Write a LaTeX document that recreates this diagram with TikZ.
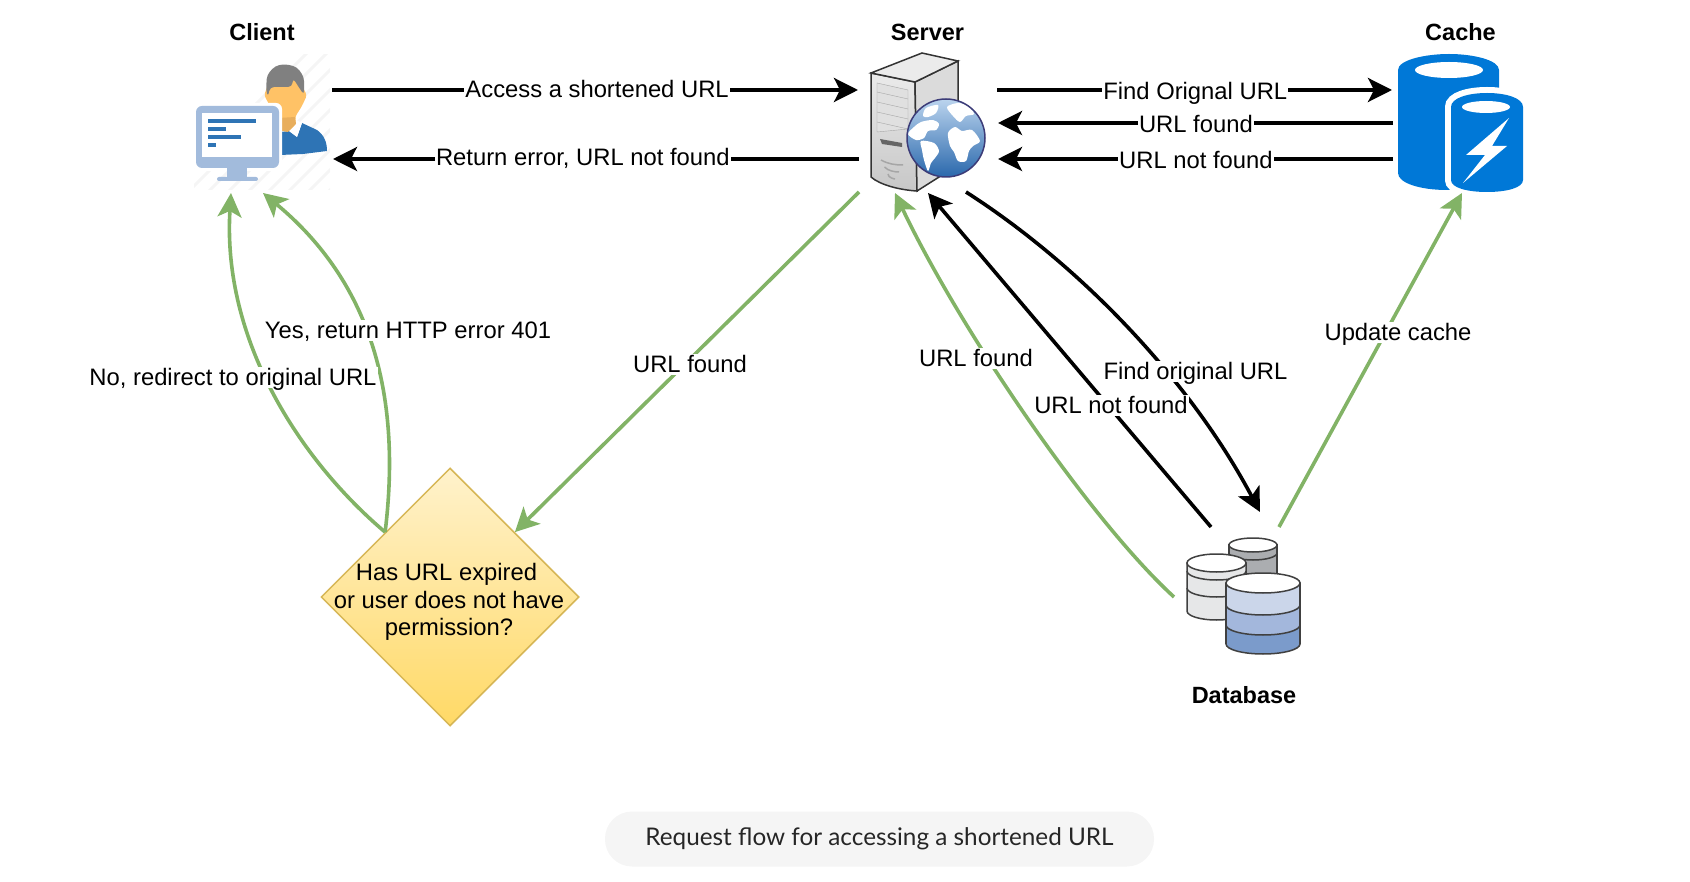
\documentclass[tikz,border=0pt]{standalone}
\usepackage{fontspec}
\setmainfont{Liberation Sans}
\newfontfamily\captionfont{Lato}
\usetikzlibrary{arrows.meta,shapes.geometric}
\definecolor{flowgreen}{HTML}{82B366}
\definecolor{cacheblue}{HTML}{0078D7}
\definecolor{personblue}{HTML}{2E74B5}
\definecolor{monitorblue}{HTML}{A2BBDC}
\definecolor{pillgray}{HTML}{F5F5F5}
\definecolor{facetone}{HTML}{FFC266}
\definecolor{necktone}{HTML}{E8AE5C}
\definecolor{checktop}{HTML}{FFF2CC}
\definecolor{checkbottom}{HTML}{FFD966}
\definecolor{checkedge}{HTML}{D6B656}
\definecolor{globetop}{HTML}{BBD4EE}
\definecolor{globebottom}{HTML}{2A68AC}
\definecolor{globeedge}{HTML}{3C3C78}
\definecolor{drumlight}{HTML}{CBD6EA}
\definecolor{drummid}{HTML}{A3B7DC}
\definecolor{drumdark}{HTML}{7B9BCB}
\definecolor{drumgray}{HTML}{ABADB0}
\definecolor{drumpale}{HTML}{E6E7E8}
\tikzset{
	blackflow/.style={line width=3.6pt,-{Stealth[length=24pt,width=24pt,inset=6pt]}},
	greenflow/.style={blackflow,draw=flowgreen},
	plainlabel/.style={inner sep=1pt,font=\fontsize{23.8}{27.6}\selectfont},
	edgelabel/.style={plainlabel,fill=white,text height=17pt,text depth=2pt},
	titlelabel/.style={inner sep=0pt,font=\fontsize{23.5}{28}\selectfont\bfseries},
	dbedge/.style={draw=black!75,line width=1.5pt}
}
\begin{document}
\begin{tikzpicture}[x=1pt,y=-1pt]
	\useasboundingbox (0,0) rectangle (1690,882);

	\begin{scope}
		\clip (194,55) rectangle (330,190);
		\foreach \hatch in {0,20,...,300}
			\draw[black!4,line width=3pt](160+\hatch,200)--(160+\hatch+160,40);
	\end{scope}
	\draw[fill=personblue,draw=none](280,132)--(280,155)--(303,154)--(327,151)..controls(327,142)and(324,135)..(317,130)--(302,123)--(297,137)--(289,131)--cycle;
	\draw[fill=white,draw=none](289,131)--(297,137)--(302,123)--(296,120)--cycle;
	\draw[fill=facetone,draw=none,rounded corners=3pt](264,95)--(270,106)--(278,117)--(278,130)--(288,132)--(296,124)--(295,117)--(302,106)--(307,95)--(303,88)--(300,72)--(270,72)--(267,88)--cycle;
	\draw[fill=necktone,draw=none](279,118)--(295,117)--(296,124)--(288,132)--(279,130)--cycle;
	\draw[fill=black!50,draw=none,rounded corners=4pt](268,97)--(266,90)--(267,75)--(275,66)--(285,64)--(297,67)--(304,77)--(304,95)--(298,86)--(293,78)--(292,87)--(282,87)--(270,87)--cycle;
	\draw[fill=white,draw=none,rounded corners=6pt](193,103) rectangle (282,171);
	\draw[fill=monitorblue,draw=none,rounded corners=6pt](196,106) rectangle (279,168);
	\draw[fill=white,draw=none](202,113) rectangle (272,157);
	\draw[fill=monitorblue,draw=none](227,167) rectangle (247,178);
	\draw[fill=monitorblue,draw=none,rounded corners=2pt](217,177) rectangle (258,181);
	\foreach \barend/\bary in {256/121,226/129,241/137,216/145}
		\draw[personblue,line width=3.5pt](208,\bary)--(\barend,\bary);

	\draw[black!80,line width=1.5pt,top color=black!8,bottom color=black!22](871,73)--(915,82)--(917,191)..controls(900,190)and(880,185)..(871,177)--cycle;
	\draw[black!80,line width=1.5pt,fill=black!14](915,82)--(958,61)--(958,165)--(917,191)--cycle;
	\draw[black!80,line width=1.5pt,fill=black!8](871,73)--(922,53)--(958,61)--(915,82)--cycle;
	\draw[black!35,fill=black!12](877,83)--(908,90)--(908,129)--(877,132)--cycle;
	\foreach \ventshift in {0,10,20,30}
		\draw[black!35](877,92+\ventshift)--(908,99+\ventshift);
	\draw[draw=none,fill=black!60](880,139)--(902,143)--(902,147)--(882,144)--cycle;
	\foreach \ventshift/\ventend in {0/903,7/899,14/895}
		\draw[black!35,line width=1.5pt](881+\ventshift/2,160+\ventshift)..controls(888,164+\ventshift)and(895,165+\ventshift)..(\ventend,165+\ventshift);
	\begin{scope}
		\clip (946,138) circle[radius=39];
		\shade[top color=globetop,bottom color=globebottom](907,99) rectangle (985,177);
		\fill[white] plot[smooth cycle] coordinates {(921,141)(934,143)(939,151)(935,158)(931,163)(928,171)(924,160)(922,150)};
		\fill[white] plot[smooth cycle] coordinates {(948,133)(955,127)(962,131)(972,130)(980,141)(973,146)(969,151)(966,161)(958,161)(954,152)(950,146)};
		\fill[white] plot[smooth cycle] coordinates {(908,134)(914,127)(921,122)(933,120)(939,124)(936,130)(928,131)(924,138)(916,140)};
		\fill[white] plot[smooth cycle] coordinates {(947,107)(958,103)(968,106)(974,114)(966,116)(960,122)(953,116)};
		\fill[white] plot[smooth cycle] coordinates {(926,108)(938,105)(936,113)(928,117)(923,116)};
	\end{scope}
	\draw[globeedge,line width=1.5pt](946,138) circle[radius=39];

	\draw[fill=cacheblue,draw=none](1398,70)..controls(1398,60)and(1425,54)..(1449,54)..controls(1473,54)and(1499,60)..(1499,70)--(1499,190)--(1447,190)..controls(1420,190)and(1398,183)..(1398,173)--cycle;
	\draw[fill=white,draw=none](1449,70) ellipse[x radius=34,y radius=8];
	\draw[fill=cacheblue,draw=none,preaction={draw=white,line width=12pt}](1451,107)..controls(1451,98)and(1468,93)..(1487,93)..controls(1506,93)and(1523,98)..(1523,107)--(1523,180)..controls(1523,188)and(1506,192)..(1487,192)..controls(1468,192)and(1451,188)..(1451,180)--cycle;
	\draw[fill=white,draw=none](1486,107) ellipse[x radius=24,y radius=6];
	\draw[fill=white,draw=none](1509,118)--(1466,155)--(1485,155)--(1463,183)--(1507,146)--(1492,146)--cycle;

	\draw[dbedge,fill=drumgray](1229,545)--(1229,590)--(1277,590)--(1277,545)--cycle;
	\draw[dbedge](1229,553) arc[start angle=180,end angle=0,x radius=24,y radius=7];
	\draw[dbedge,fill=white](1253,545) ellipse[x radius=24,y radius=7];
	\draw[dbedge,fill=drumpale](1187,563)--(1187,611) arc[start angle=180,end angle=0,x radius=29.5,y radius=9]--(1246,563)--cycle;
	\draw[dbedge](1187,571) arc[start angle=180,end angle=0,x radius=29.5,y radius=9];
	\draw[dbedge](1187,588) arc[start angle=180,end angle=0,x radius=29.5,y radius=9];
	\draw[dbedge,fill=white](1216.5,563) ellipse[x radius=29.5,y radius=9];
	\draw[dbedge,fill=drumdark](1226,583)--(1226,644) arc[start angle=180,end angle=0,x radius=37,y radius=10]--(1300,583)--cycle;
	\draw[draw=none,fill=drummid](1226,625) arc[start angle=180,end angle=0,x radius=37,y radius=10]--(1300,605) arc[start angle=0,end angle=180,x radius=37,y radius=10]--cycle;
	\draw[draw=none,fill=drumlight](1226,605) arc[start angle=180,end angle=0,x radius=37,y radius=10]--(1300,583)--(1226,583)--cycle;
	\draw[dbedge](1226,605) arc[start angle=180,end angle=0,x radius=37,y radius=10];
	\draw[dbedge](1226,625) arc[start angle=180,end angle=0,x radius=37,y radius=10];
	\draw[dbedge](1226,583)--(1226,644);
	\draw[dbedge](1300,583)--(1300,644);
	\draw[dbedge,fill=white](1263,583) ellipse[x radius=37,y radius=10];

	\node[titlelabel] (clienttitle) at (262,32) {Client};
	\node[titlelabel] (servertitle) at (927.5,32) {Server};
	\node[titlelabel] (cachetitle) at (1460.5,32) {Cache};
	\node[titlelabel] (dbtitle) at (1244,695) {Database};

	\node[diamond,draw=checkedge,line width=1.5pt,top color=checktop,bottom color=checkbottom,minimum width=258pt,minimum height=258pt,inner sep=0pt,shape aspect=1] (check) at (450,597) {};
	\node[plainlabel,align=center] (checktext) at (449,602) {Has URL expired\hspace*{5pt}\\or user does not have\\permission?};

	\coordinate (clientout) at (332,90);
	\coordinate (clientin) at (333,159);
	\coordinate (clienttipa) at (231,193);
	\coordinate (clienttipb) at (263,193);
	\coordinate (serverin) at (858,90);
	\coordinate (serverback) at (859,159);
	\coordinate (serverright) at (997,90);
	\coordinate (serverfound) at (998,123);
	\coordinate (servermiss) at (998,159);
	\coordinate (servergreenout) at (859,192);
	\coordinate (servergreenin) at (895,193);
	\coordinate (serverblackin) at (928,193);
	\coordinate (serverblackout) at (966,192);
	\coordinate (cachein) at (1392,90);
	\coordinate (cachefound) at (1393,123);
	\coordinate (cachemiss) at (1393,159);
	\coordinate (cachetip) at (1462,193);
	\coordinate (dbin) at (1260,512);
	\coordinate (dbblackout) at (1211,527);
	\coordinate (dbgreenout) at (1174,597);
	\coordinate (dbcacheout) at (1279,527);

	\draw[blackflow](clientout)--node[edgelabel,pos=.504](accesslabel){Access a shortened URL}(serverin);
	\draw[blackflow](serverback)--node[edgelabel,pos=.525,yshift=1pt](errorlabel){Return error, URL not found}(clientin);
	\draw[blackflow](serverright)--node[edgelabel,pos=.502,yshift=-2pt](findlabel){Find Orignal URL}(cachein);
	\draw[blackflow](cachefound)--node[edgelabel,pos=.499,yshift=-2pt](foundlabel){URL found}(serverfound);
	\draw[blackflow](cachemiss)--node[edgelabel,pos=.499,yshift=-2pt](misslabel){URL not found}(servermiss);
	\draw[greenflow](check.135)..controls(300,460)and(222,340)..(clienttipa);
	\draw[greenflow](check.135)..controls(400,410)and(380,290)..(clienttipb);
	\draw[greenflow](servergreenout)--(check.45);
	\draw[greenflow](dbgreenout)..controls(1090,520)and(960,330)..(servergreenin);
	\draw[blackflow](dbblackout)--(serverblackin);
	\draw[blackflow](serverblackout)..controls(1080,265)and(1190,380)..(dbin);
	\draw[greenflow](dbcacheout)--(cachetip);

	\node[edgelabel] (yeslabel) at (408,331) {Yes, return HTTP error 401};
	\node[edgelabel] (nolabel) at (233,378) {No, redirect to original URL};
	\node[edgelabel] (checkfoundlabel) at (690,365) {URL found};
	\node[edgelabel] (dbfoundlabel) at (976,359) {URL found};
	\node[edgelabel] (dbmisslabel) at (1111,406) {URL not found};
	\node[edgelabel] (dbfindlabel) at (1195.5,372) {Find original URL};
	\node[edgelabel] (updatelabel) at (1398,333) {Update cache};

	\node[fill=pillgray,rounded corners=27pt,minimum width=549pt,minimum height=55pt,text=black!85,font=\captionfont\fontsize{24.3}{28}\selectfont] (caption) at (879.5,839) {Request flow for accessing a shortened URL};
\end{tikzpicture}
\end{document}
